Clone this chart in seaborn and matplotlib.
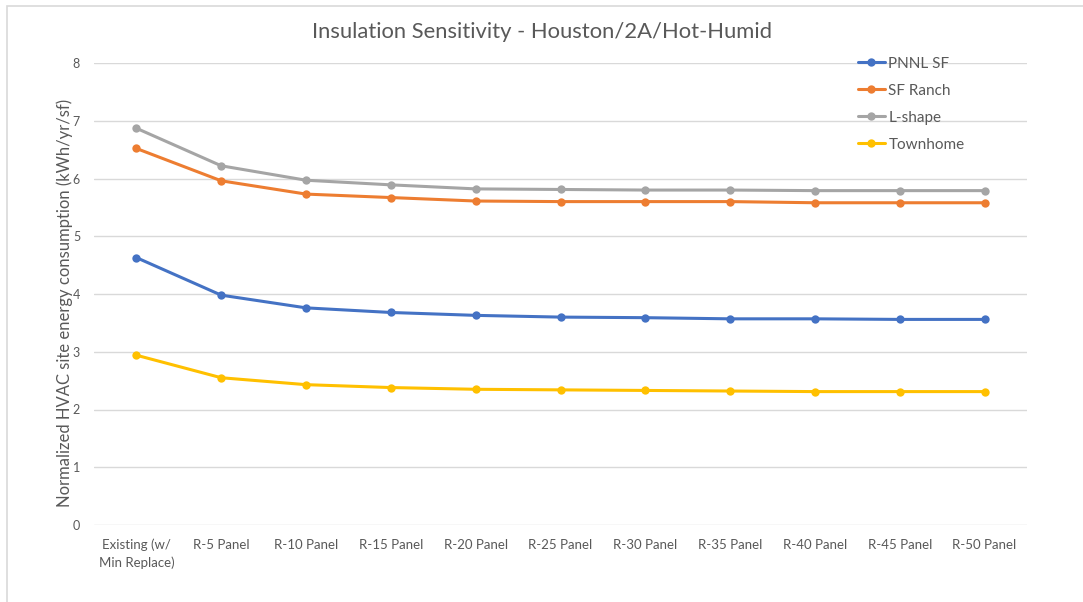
import matplotlib
matplotlib.use("Agg")
import matplotlib.pyplot as plt
import seaborn as sns
import pandas as pd
from matplotlib.patches import Rectangle

categories = ["Existing (w/\nMin Replace)", "R-5 Panel", "R-10 Panel", "R-15 Panel",
              "R-20 Panel", "R-25 Panel", "R-30 Panel", "R-35 Panel",
              "R-40 Panel", "R-45 Panel", "R-50 Panel"]

pnnl_sf = [4.63, 3.98, 3.76, 3.68, 3.63, 3.60, 3.59, 3.57, 3.57, 3.56, 3.56]
sf_ranch = [6.52, 5.96, 5.73, 5.67, 5.61, 5.60, 5.60, 5.60, 5.58, 5.58, 5.58]
l_shape = [6.87, 6.22, 5.97, 5.89, 5.82, 5.81, 5.80, 5.80, 5.79, 5.79, 5.79]
townhome = [2.94, 2.55, 2.43, 2.38, 2.35, 2.34, 2.33, 2.32, 2.31, 2.31, 2.31]

series_names = ["PNNL SF", "SF Ranch", "L-shape", "Townhome"]
series_values = [pnnl_sf, sf_ranch, l_shape, townhome]
colors = ["#4472C4", "#ED7D31", "#A5A5A5", "#FFC000"]

rows = []
for name, vals in zip(series_names, series_values):
    for i, v in enumerate(vals):
        rows.append({"pos": i, "Series": name, "value": v})
df = pd.DataFrame(rows)

sns.set_theme(style="white")
plt.rcParams["font.family"] = ["Lato", "DejaVu Sans"]

fig = plt.figure(figsize=(10.83, 6.02), dpi=100)
ax = fig.add_axes([94 / 1083, 1 - 525 / 602, (1027 - 94) / 1083, (525 - 63) / 602])

sns.lineplot(data=df, x="pos", y="value", hue="Series", hue_order=series_names,
             palette=colors, marker="o", markersize=6, markeredgewidth=0,
             linewidth=2.2, ax=ax, legend=True, zorder=3)

ax.set_xlim(-0.5, 10.5)
ax.set_ylim(0, 8)
ax.set_yticks(range(0, 9))
ax.set_xticks(range(len(categories)))
ax.set_xticklabels(categories, fontsize=9.5, color="#595959", linespacing=1.5)
ax.tick_params(axis="y", labelsize=9, labelcolor="#595959", length=0, pad=10)
ax.tick_params(axis="x", length=0, pad=10)
ax.grid(axis="y", color="#D9D9D9", linewidth=1)
ax.set_axisbelow(True)
for s in ax.spines.values():
    s.set_visible(False)
ax.set_xlabel("")
ax.set_ylabel("Normalized HVAC site energy consumption (kWh/yr/sf)",
              fontsize=12, color="#595959", labelpad=2)
ax.yaxis.set_label_coords(-0.022, 0.48)

ax.legend(loc="upper left", bbox_to_anchor=(0.812, 1.027), frameon=False,
          fontsize=11, labelcolor="#595959", handlelength=1.8,
          labelspacing=0.85, handletextpad=0.2, borderaxespad=0)

fig.text(0.5, 1 - 32 / 602, "Insulation Sensitivity - Houston/2A/Hot-Humid",
         ha="center", va="center", fontsize=15.8, color="#595959")

fig.patches.append(Rectangle((7 / 1083, -0.1), 1.2, 1 - 6 / 602 + 0.1,
                             transform=fig.transFigure, fill=False,
                             edgecolor="#D9D9D9", linewidth=1.2))

fig.savefig("out.png", dpi=100, facecolor="white")
